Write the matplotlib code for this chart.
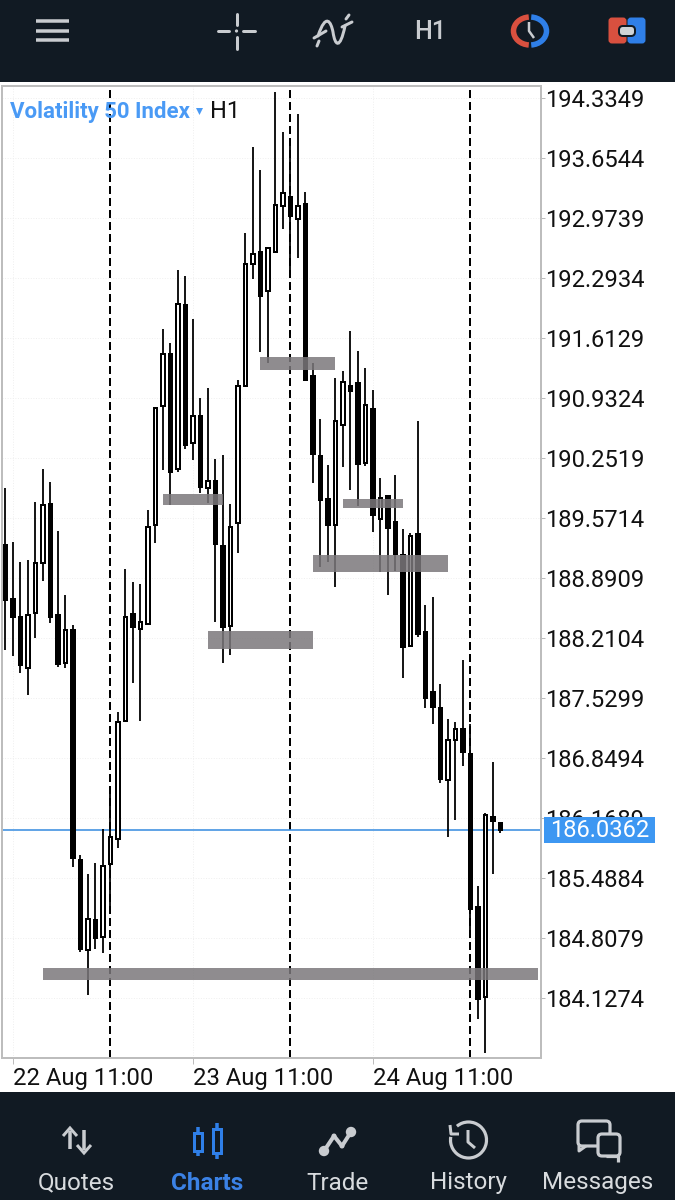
import matplotlib
matplotlib.use('Agg')
import matplotlib.pyplot as plt
from matplotlib.patches import Rectangle, FancyBboxPatch, Arc, Circle, Polygon, PathPatch
from matplotlib.path import Path

plt.rcParams['font.family'] = ['Roboto', 'DejaVu Sans']

# hourly candles, hour 0 = 22 Aug 11:00
hours = list(range(-1, 66))
opens = [189.265, 188.652, 188.448, 187.873, 188.494, 189.061, 189.733, 188.471, 187.927, 188.301,
         185.692, 184.671, 185.012, 184.819, 185.650, 185.930, 187.269, 188.482, 188.312, 188.372,
         189.488, 190.841, 191.431, 190.127, 191.990, 190.425, 190.731, 189.911, 189.991, 189.254,
         188.350, 189.514, 191.072, 192.455, 192.588, 192.146, 192.588, 193.110, 193.212, 192.962,
         193.132, 191.182, 190.274, 189.787, 189.495, 190.626, 191.068, 191.102, 190.198, 190.807,
         189.560, 189.821, 189.526, 189.155, 188.123, 189.393, 188.278, 187.598, 187.416, 186.600,
         187.053, 187.181, 186.894, 185.163, 184.138, 186.180, 186.112]
highs = [189.915, 189.299, 189.075, 189.095, 189.756, 190.127, 189.979, 189.424, 188.701, 188.361,
         185.749, 185.533, 185.662, 186.044, 186.441, 187.374, 188.993, 188.845, 188.823, 189.662,
         190.822, 191.715, 191.556, 192.384, 192.319, 191.828, 190.936, 191.046, 190.240, 190.286,
         189.730, 191.136, 192.807, 193.779, 193.518, 192.637, 194.403, 193.953, 193.881, 194.157,
         193.272, 191.329, 190.694, 190.172, 191.159, 191.242, 191.692, 191.469, 191.272, 191.023,
         190.025, 189.821, 190.059, 189.446, 189.404, 190.671, 188.584, 188.679, 187.688, 187.291,
         187.257, 187.961, 187.235, 185.397, 186.225, 186.807, 186.112]
lows = [188.074, 188.009, 187.817, 187.564, 188.210, 188.860, 188.380, 187.885, 187.870, 185.616,
        184.652, 184.161, 184.683, 184.637, 185.170, 185.828, 187.269, 187.700, 187.272, 188.372,
        189.291, 190.116, 189.719, 190.096, 190.357, 190.229, 189.858, 189.741, 188.392, 187.930,
        188.017, 189.174, 191.072, 192.282, 191.457, 191.329, 192.588, 192.849, 192.316, 192.523,
        191.140, 189.972, 189.019, 189.075, 188.789, 190.153, 189.889, 189.707, 190.161, 189.412,
        188.962, 188.698, 188.973, 187.756, 188.111, 188.225, 187.416, 187.235, 186.566, 185.956,
        186.146, 186.762, 184.842, 183.889, 183.507, 185.533, 185.998]
closes = [188.645, 188.452, 187.904, 188.471, 189.061, 189.719, 188.448, 187.919, 188.304, 185.718,
          184.683, 185.023, 184.808, 185.628, 185.956, 187.261, 188.452, 188.338, 188.392, 189.469,
          190.822, 191.431, 190.093, 191.998, 190.399, 190.731, 189.923, 189.991, 189.276, 188.338,
          189.472, 191.072, 192.452, 192.565, 192.092, 192.637, 193.121, 193.261, 192.996, 193.110,
          191.140, 190.297, 189.775, 189.495, 190.671, 191.114, 191.015, 190.187, 190.853, 189.605,
          189.798, 189.461, 189.166, 188.111, 189.370, 188.259, 187.530, 187.431, 186.611, 187.053,
          187.178, 186.921, 185.140, 184.116, 186.203, 186.135, 186.036]

# grey zones drawn by hand on the chart: start hour, end hour, bottom price, top price
zone_start = [20, 26, 33, 44, 40, 4]
zone_end = [28, 40, 43, 52, 58, 70]
zone_low = [189.715, 188.085, 191.250, 189.688, 188.955, 184.331]
zone_high = [189.843, 188.289, 191.394, 189.790, 189.151, 184.467]

price_ticks = [194.3349, 193.6544, 192.9739, 192.2934, 191.6129, 190.9324, 190.2519, 189.5714,
               188.8909, 188.2104, 187.5299, 186.8494, 186.1689, 185.4884, 184.8079, 184.1274]
date_ticks = [0, 24, 48]
date_labels = ['22 Aug 11:00', '23 Aug 11:00', '24 Aug 11:00']
day_breaks = [13, 37, 61]
last_price = 186.0362

DARK = '#111a23'
ICON = '#c9ccd0'
BLUE = '#2f7fe8'
RED = '#d9503f'
PX = 0.72  # one pixel in points at dpi 100

fig = plt.figure(figsize=(6.75, 12), dpi=100, facecolor='white')

# --- chart ---
ax = fig.add_axes([2 / 675, 1 - 1058 / 1200, 539 / 675, 972 / 1200])
ax.set_xlim(-11 / 7.5, 528 / 7.5)
ax.set_ylim(183.446, 194.471)

for s in ax.spines.values():
    s.set_color('#bdbdbd')
    s.set_linewidth(2 * PX)

ax.yaxis.tick_right()
ax.set_yticks(price_ticks)
ax.set_yticklabels(['%.4f' % p for p in price_ticks], fontsize=17.1, color='#111111')
ax.set_xticks(date_ticks)
ax.set_xticklabels(date_labels, fontsize=17.2, color='#111111', ha='left')
ax.tick_params(axis='y', length=4 * PX, width=PX, color='#bdbdbd', pad=0)
ax.tick_params(axis='x', length=6 * PX, width=PX, color='#bdbdbd', pad=2.5)
ax.grid(True, linestyle=':', color='#efefef', linewidth=0.7)
ax.set_axisbelow(True)

for h in day_breaks:
    ax.axvline(h, color='black', linestyle=(0, (4, 2)), linewidth=2 * PX, zorder=1.5)
ax.axhline(last_price, color='#3d8fe0', linewidth=1.6 * PX, zorder=1.6)

# wicks then bodies
ax.vlines(hours, lows, highs, color='black', linewidth=1.8 * PX, zorder=2)
body_low = [min(o, c) for o, c in zip(opens, closes)]
body_size = [abs(o - c) for o, c in zip(opens, closes)]
body_color = ['white' if c >= o else 'black' for o, c in zip(opens, closes)]
ax.bar(hours, body_size, bottom=body_low, width=0.52, color=body_color,
       edgecolor='black', linewidth=2 * PX, zorder=3)

for x0, x1, y0, y1 in zip(zone_start, zone_end, zone_low, zone_high):
    ax.add_patch(Rectangle((x0, y0), x1 - x0, y1 - y0, facecolor='#7b787b', alpha=0.85,
                           edgecolor='none', zorder=4))

# --- overlay in pixels for app bars, icons and title ---
ui = fig.add_axes([0, 0, 1, 1], facecolor='none')
ui.set_xlim(0, 675)
ui.set_ylim(1200, 0)
ui.axis('off')

ui.add_patch(Rectangle((0, 0), 675, 82, facecolor=DARK, edgecolor='none'))
ui.add_patch(Rectangle((0, 1092), 675, 108, facecolor=DARK, edgecolor='none'))

ui.text(10, 112, 'Volatility 50 Index', color='#4a9af5', fontsize=16, fontweight='bold',
        va='center', ha='left')
ui.add_patch(Polygon([[196, 108], [203, 108], [199.5, 115]], facecolor='#4a9af5', edgecolor='none'))
ui.text(210, 112, 'H1', color='#111111', fontsize=17, va='center', ha='left')

# price tag
ui.add_patch(Rectangle((544, 817), 111, 26, facecolor='#3d97f2', edgecolor='none'))
ui.text(599.5, 830.5, '186.0362', color='white', fontsize=17.1, va='center', ha='center')


def seg(xs, ys, color=ICON, w=3, cap='butt'):
    ui.plot(xs, ys, color=color, linewidth=w * PX, solid_capstyle=cap)


# hamburger
for y in [21, 31, 40]:
    seg([36, 69], [y, y], w=3.5)

# crosshair
seg([218, 229], [31, 31], w=3, cap='round')
seg([243, 255], [31, 31], w=3, cap='round')
seg([236.5, 236.5], [14, 25], w=3, cap='round')
seg([236.5, 236.5], [37, 49], w=3, cap='round')
ui.add_patch(Circle((236.5, 31), 1.6, facecolor=ICON, edgecolor='none'))

# indicators
wave = Path([(318, 36), (326, 12), (331, 22), (333, 32), (335, 46), (340, 50), (345, 26)],
            [Path.MOVETO] + [Path.CURVE4] * 6)
ui.add_patch(PathPatch(wave, facecolor='none', edgecolor=ICON, linewidth=3 * PX, capstyle='round'))
seg([314, 326], [38, 31], w=3, cap='round')
seg([317, 319], [46, 41], w=3, cap='round')
seg([342, 352], [27, 22], w=3, cap='round')
seg([346, 349], [19, 15], w=3, cap='round')

ui.text(430.5, 32, 'H1', color=ICON, fontsize=18, fontweight='medium', va='center', ha='center')

# clock
ui.add_patch(Arc((530, 31), 33, 28, theta1=95, theta2=265, color=RED, linewidth=5.5 * PX))
ui.add_patch(Arc((530, 31), 33, 28, theta1=-85, theta2=85, color=BLUE, linewidth=5.5 * PX))
seg([529, 529, 534], [22, 31, 38], w=2.5)

# account switch
ui.add_patch(FancyBboxPatch((610, 19), 15, 23, boxstyle='round,pad=0,rounding_size=2',
                            facecolor=RED, edgecolor=RED, linewidth=3 * PX))
ui.add_patch(FancyBboxPatch((629, 19), 15, 23, boxstyle='round,pad=0,rounding_size=2',
                            facecolor=BLUE, edgecolor=BLUE, linewidth=3 * PX))
ui.add_patch(FancyBboxPatch((619, 26), 16, 10, boxstyle='round,pad=0,rounding_size=4',
                            facecolor='#cfd3d6', edgecolor=DARK, linewidth=2 * PX))

# bottom navigation labels
nav_x = [76, 207, 337.5, 468.5, 598]
nav_labels = ['Quotes', 'Charts', 'Trade', 'History', 'Messages']
for x, label in zip(nav_x, nav_labels):
    active = label == 'Charts'
    ui.text(x, 1189.5, label, ha='center', va='baseline', fontsize=17.5,
            color='#3b82e6' if active else '#d8dbde', fontweight='bold' if active else 'normal')

# quotes arrows
seg([70, 70], [1131, 1149], w=3.5)
ui.add_patch(Polygon([[63, 1136], [70, 1128], [77, 1136]], closed=False, facecolor='none', edgecolor=ICON, linewidth=3 * PX))
seg([84, 84], [1130, 1150], w=3.5)
ui.add_patch(Polygon([[77, 1145], [84, 1153], [91, 1145]], closed=False, facecolor='none', edgecolor=ICON, linewidth=3 * PX))

# charts candles
for x, top, bottom, y0, y1 in [(198, 1133, 1151, 1127, 1156), (217, 1129, 1153, 1123, 1159)]:
    seg([x, x], [y0, top], color=BLUE, w=3.5)
    seg([x, x], [bottom, y1], color=BLUE, w=3.5)
    ui.add_patch(Rectangle((x - 4, top), 8, bottom - top, facecolor='none', edgecolor=BLUE, linewidth=3 * PX))

# trade line
trade_x = [324, 334, 342, 351]
trade_y = [1151, 1136, 1146, 1132]
seg(trade_x, trade_y, w=4)
ui.add_patch(Circle((324, 1151), 5.2, facecolor=ICON, edgecolor='none'))
ui.add_patch(Circle((351, 1132), 5.2, facecolor=ICON, edgecolor='none'))
ui.add_patch(Circle((334, 1136), 2.5, facecolor=ICON, edgecolor='none'))
ui.add_patch(Circle((342, 1146), 2.5, facecolor=ICON, edgecolor='none'))

# history
ui.add_patch(Arc((468.5, 1140), 36, 36, theta1=-130, theta2=190, color=ICON, linewidth=3.2 * PX))
seg([450, 451, 459], [1125, 1134, 1134], w=3)
seg([468, 468, 475], [1130, 1142, 1148], w=3)

# messages
seg([606, 618, 618], [1156, 1156, 1162], w=3.2)
ui.add_patch(FancyBboxPatch((578, 1121), 32, 25, boxstyle='round,pad=0,rounding_size=4',
                            facecolor=DARK, edgecolor=ICON, linewidth=3.2 * PX, zorder=1.9))
ui.add_patch(FancyBboxPatch((598, 1134), 22, 22, boxstyle='round,pad=0,rounding_size=4',
                            facecolor=DARK, edgecolor=ICON, linewidth=3.2 * PX, zorder=2))
seg([579, 579, 586], [1146, 1151, 1146], w=3)

fig.savefig('out.png', dpi=100)
